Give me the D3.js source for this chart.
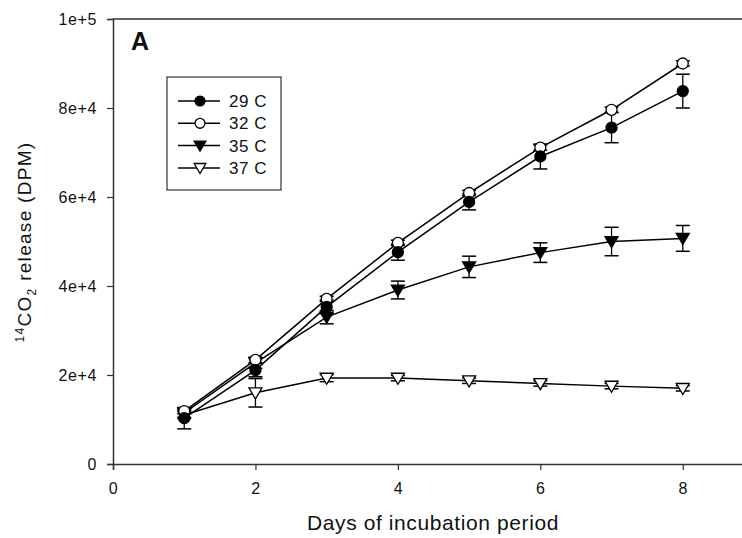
<!DOCTYPE html>
<html><head><meta charset="utf-8">
<script src="https://cdn.jsdelivr.net/npm/d3@7"></script>
<style>body{margin:0;background:#fff}svg{display:block}text{font-family:"Liberation Sans",Arial,sans-serif;fill:#111}</style>
</head><body><svg id="c" width="742" height="538"></svg>
<script>
const days = [1,2,3,4,5,6,7,8];
const seriesNames = ["29 C","32 C","35 C","37 C"];
const v29 = [10300,21100,35300,47600,58900,69100,75600,83800];
const v32 = [11900,23400,37100,49700,60900,71100,79600,90000];
const v35 = [11500,22700,33000,39100,44300,47500,50000,50700];
const v37 = [11000,16000,19300,19300,18700,18100,17500,17000];
const e29 = [2400,1500,1500,1800,1800,2800,3400,3800];
const e32 = [600,600,600,600,600,600,600,600];
const e35 = [1000,1200,1500,2000,2400,2200,3200,2900];
const e37 = [800,3200,800,600,600,600,600,600];
const yTicks = [0,20000,40000,60000,80000,100000];
const yTickLabels = ["0","2e+4","4e+4","6e+4","8e+4","1e+5"];
const xTicks = [0,2,4,6,8];

const svg = d3.select("#c");
const x = d3.scaleLinear().domain([0,9]).range([113,754]);
const y = d3.scaleLinear().domain([0,100000]).range([464,19]);

svg.append("line").attr("x1",113).attr("x2",742).attr("y1",y(100000)).attr("y2",y(100000)).attr("stroke","#333").attr("stroke-width",1.5);

const yAxis = svg.append("g").attr("transform","translate(113,0)")
  .call(d3.axisLeft(y).tickValues(yTicks).tickFormat((d,i)=>yTickLabels[i]).tickSize(6).tickPadding(10));
const xAxis = svg.append("g").attr("transform","translate(0,464)")
  .call(d3.axisBottom(x).tickValues(xTicks).tickFormat(d3.format("d")).tickSize(6).tickPadding(13));
[yAxis,xAxis].forEach(g=>{
  g.select(".domain").attr("stroke","#333").attr("stroke-width",1.5);
  g.selectAll(".tick line").attr("stroke","#333").attr("stroke-width",1.2);
  g.selectAll("text").attr("font-size",16).attr("fill","#111").attr("letter-spacing",0.6).style("font-family","Liberation Sans, Arial, sans-serif");
});

svg.append("text").attr("x",433).attr("y",530).attr("text-anchor","middle").attr("font-size",21).attr("letter-spacing",0.6).text("Days of incubation period");
const yt = svg.append("text").attr("transform","translate(31,242) rotate(-90)").attr("text-anchor","middle").attr("font-size",19).attr("letter-spacing",1.3);
yt.append("tspan").attr("font-size",12).attr("dy",-7).text("14");
yt.append("tspan").attr("dy",7).text("CO");
yt.append("tspan").attr("font-size",12).attr("dy",5).text("2");
yt.append("tspan").attr("dy",-5).text(" release (DPM)");

svg.append("text").attr("x",131).attr("y",50).attr("font-size",25).attr("font-weight","bold").text("A");

const data = [
  {name:seriesNames[0], v:v29, e:e29, shape:"circle", fill:"#000"},
  {name:seriesNames[1], v:v32, e:e32, shape:"circle", fill:"#fff"},
  {name:seriesNames[2], v:v35, e:e35, shape:"tri", fill:"#000"},
  {name:seriesNames[3], v:v37, e:e37, shape:"tri", fill:"#fff"}
];
const line = d3.line().x((d,i)=>x(days[i])).y(d=>y(d));
const triPath = s => `M${-s},${-s*0.75}L${s},${-s*0.75}L0,${s*0.95}Z`;
function marker(g, s, cx, cy, k){
  k = k||1;
  if(s.shape==="circle") g.append("circle").attr("cx",cx).attr("cy",cy).attr("r",5.5*k).attr("fill",s.fill).attr("stroke","#000").attr("stroke-width",1.3);
  else g.append("path").attr("d",triPath(6.5*k)).attr("transform",`translate(${cx},${cy})`).attr("fill",s.fill).attr("stroke","#000").attr("stroke-width",1.3);
}
data.forEach(s=>{
  const g = svg.append("g");
  s.v.forEach((v,i)=>{
    const cx = x(days[i]), e = s.e[i];
    g.append("line").attr("x1",cx).attr("x2",cx).attr("y1",y(v-e)).attr("y2",y(v+e)).attr("stroke","#000").attr("stroke-width",1.3);
    [v-e,v+e].forEach(t=>g.append("line").attr("x1",cx-7).attr("x2",cx+7).attr("y1",y(t)).attr("y2",y(t)).attr("stroke","#000").attr("stroke-width",1.5));
  });
});
data.forEach(s=>{
  svg.append("path").datum(s.v).attr("d",line).attr("fill","none").attr("stroke","#000").attr("stroke-width",1.5);
});
data.slice().reverse().forEach(s=>{
  const g = svg.append("g");
  s.v.forEach((v,i)=>marker(g,s,x(days[i]),y(v)));
});

const lg = svg.append("g");
lg.append("rect").attr("x",167).attr("y",77).attr("width",114).attr("height",113).attr("fill","#fff").attr("stroke","#333").attr("stroke-width",1.2);
data.forEach((s,i)=>{
  const ly = 101 + i*22.3;
  lg.append("line").attr("x1",178).attr("x2",220).attr("y1",ly).attr("y2",ly).attr("stroke","#000").attr("stroke-width",1.5);
  marker(lg,s,200,ly,0.9);
  lg.append("text").attr("x",229).attr("y",ly+6).attr("font-size",17).attr("letter-spacing",0.5).text(s.name);
});
</script></body></html>
